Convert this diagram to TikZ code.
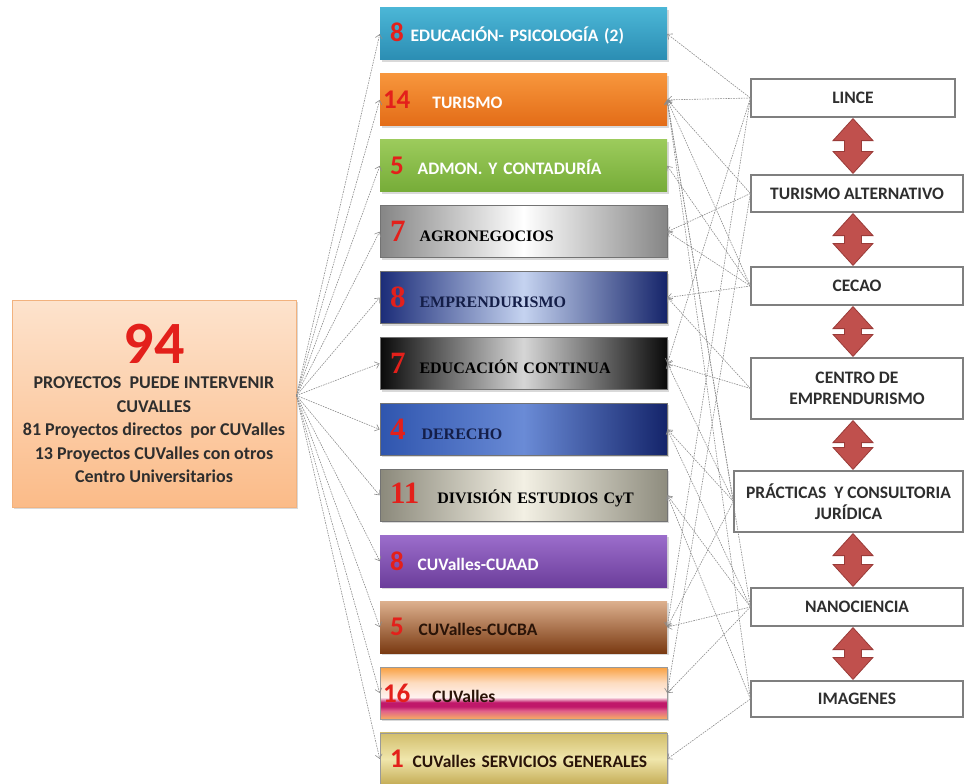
\documentclass[tikz,border=0pt]{standalone}
\usepackage{fontspec}
\setmainfont{Carlito}
\newfontfamily\serifbf{Liberation Serif}
\usepackage{xcolor}
\usepackage{tikz}
\usetikzlibrary{arrows.meta, positioning, calc, shadows}

\definecolor{numred}{HTML}{E3201B}
\definecolor{darktext}{HTML}{2E2E2E}
\definecolor{linkgray}{HTML}{8C8C8C}
\definecolor{boxgray}{HTML}{7F7F7F}
\definecolor{arrowred}{HTML}{C0504D}
\definecolor{arrowedge}{HTML}{9A3B38}
\definecolor{peachtop}{HTML}{FDE3CD}
\definecolor{peachbot}{HTML}{FBBB88}
\definecolor{peachedge}{HTML}{F2B27E}
\definecolor{tealtop}{HTML}{4BB6D6}
\definecolor{tealbot}{HTML}{2B8DB3}
\definecolor{orgtop}{HTML}{F7963C}
\definecolor{orgbot}{HTML}{E36C17}
\definecolor{grntop}{HTML}{9CCB5C}
\definecolor{grnbot}{HTML}{76AC38}
\definecolor{agroside}{HTML}{858585}
\definecolor{empside}{HTML}{1B2C78}
\definecolor{empmid}{HTML}{C5D3F0}
\definecolor{empedge}{HTML}{15246A}
\definecolor{navytext}{HTML}{141E48}
\definecolor{contside}{HTML}{0A0A0A}
\definecolor{contmid}{HTML}{D6D6D6}
\definecolor{derleft}{HTML}{2F55AE}
\definecolor{dermid}{HTML}{6A8BD6}
\definecolor{derright}{HTML}{14246A}
\definecolor{cytleft}{HTML}{8B897B}
\definecolor{cytmid}{HTML}{F3F0E4}
\definecolor{cytright}{HTML}{8E8C7E}
\definecolor{purtop}{HTML}{9B6DCB}
\definecolor{purbot}{HTML}{6C3E9B}
\definecolor{brntop}{HTML}{DDB08E}
\definecolor{brnbot}{HTML}{7A3A12}
\definecolor{brntext}{HTML}{2A1408}
\definecolor{cuorgtop}{HTML}{F9A040}
\definecolor{cupeach}{HTML}{FDDCC0}
\definecolor{cuwhite}{HTML}{FFF2F0}
\definecolor{cumag}{HTML}{C0186A}
\definecolor{cupink}{HTML}{E0608A}
\definecolor{cuorgbot}{HTML}{F6AC62}
\definecolor{khtop}{HTML}{D2BE6C}
\definecolor{khmid}{HTML}{F0E6AC}
\definecolor{khbot}{HTML}{C4AC55}

\pgfdeclareverticalshading{cuvshade}{100bp}{color(0bp)=(cuorgbot); color(25bp)=(cuorgbot); color(33bp)=(cupink); color(37bp)=(cumag); color(41bp)=(cumag); color(46bp)=(cuwhite); color(60bp)=(cupeach); color(75bp)=(cuorgtop); color(100bp)=(cuorgtop)}

\newcommand{\cnt}[1]{{\color{numred}\fontsize{27}{27}\selectfont #1}}
\newcommand{\cntr}[1]{{\color{numred}\fontsize{31}{31}\selectfont #1}}

\tikzstyle{total} = [rectangle, minimum width=284pt, minimum height=207pt, align=center, draw=peachedge, line width=0.8pt, top color=peachtop, bottom color=peachbot, drop shadow={opacity=0.3, shadow xshift=2pt, shadow yshift=-2pt}, text=darktext, font=\bfseries\fontsize{18}{23.5}\selectfont]
\tikzstyle{area} = [rectangle, minimum width=287pt, minimum height=52pt, text width=267pt, inner xsep=10pt, align=left, drop shadow={opacity=0.3, shadow xshift=1.5pt, shadow yshift=-2pt}, font=\bfseries\fontsize{17.5}{20}\selectfont]
\tikzstyle{serifarea} = [area, draw=black!55, line width=0.8pt, font=\serifbf\bfseries\fontsize{16}{20}\selectfont]
\tikzstyle{centre} = [rectangle, minimum width=212pt, minimum height=38pt, align=center, draw=boxgray, line width=1.2pt, fill=white, text=darktext, font=\bfseries\fontsize{17.5}{21}\selectfont]
\tikzstyle{link} = [draw=linkgray, line width=0.6pt, dash pattern=on 1.6pt off 1pt, ->, >={Straight Barb[length=4pt,width=7pt]}]
\tikzstyle{updown} = [draw=arrowedge, fill=arrowred, line width=0.8pt, line join=miter,
    to path={let \p1=(\tikztostart), \p2=(\tikztotarget) in
        (\x1,\y1) -- (\x1+20pt,\y1-22pt) -- (\x1+8.5pt,\y1-22pt) -- (\x1+8.5pt,\y2+22pt) -- (\x1+20pt,\y2+22pt)
        -- (\x1,\y2) -- (\x1-20pt,\y2+22pt) -- (\x1-8.5pt,\y2+22pt) -- (\x1-8.5pt,\y1-22pt) -- (\x1-20pt,\y1-22pt) -- cycle}]

\begin{document}
\begin{tikzpicture}[x=1pt, y=1pt, node distance=65.9pt]
    \useasboundingbox (0,0) rectangle (964,-784);

    \node (proj) [total] at (154,-403.5) {{\color{numred}\fontsize{60}{60}\selectfont 94}\\[2pt]
        PROYECTOS\ \ PUEDE INTERVENIR\\ CUVALLES\\ 81 Proyectos directos\ \ por CUValles\\
        13 Proyectos CUValles con otros\\ Centro Universitarios};

    \node (edupsi) [area, top color=tealtop, bottom color=tealbot, text=white] at (523.5,-34) {\cnt{8}\hspace{7pt}EDUCACIÓN- PSICOLOGÍA (2)};
    \node (turismo) [area, below of=edupsi, top color=orgtop, bottom color=orgbot, text=white] {\hspace*{-7pt}\cnt{14}\hspace{22pt}TURISMO};
    \node (admon) [area, below of=turismo, top color=grntop, bottom color=grnbot, text=white] {\cnt{5}\hspace{14pt}ADMON. Y CONTADURÍA};
    \node (agro) [serifarea, below of=admon, left color=agroside, right color=agroside, middle color=white, text=black] {\cntr{7}\hspace{14pt}AGRONEGOCIOS};
    \node (empre) [serifarea, below of=agro, left color=empside, right color=empedge, middle color=empmid, text=navytext] {\cntr{8}\hspace{14pt}EMPRENDURISMO};
    \node (educont) [serifarea, below of=empre, left color=contside, right color=contside, middle color=contmid, text=black] {\cntr{7}\hspace{14pt}EDUCACIÓN CONTINUA};
    \node (derecho) [serifarea, below of=educont, left color=derleft, right color=derright, middle color=dermid, text=navytext] {\cntr{4}\hspace{16pt}DERECHO};
    \node (divcyt) [serifarea, below of=derecho, left color=cytleft, right color=cytright, middle color=cytmid, text=black] {\cntr{11}\hspace{18pt}DIVISIÓN ESTUDIOS CyT};
    \node (cuaad) [area, below of=divcyt, top color=purtop, bottom color=purbot, text=white] {\cnt{8}\hspace{14pt}CUValles-CUAAD};
    \node (cucba) [area, below of=cuaad, top color=brntop, bottom color=brnbot, text=brntext] {\cnt{5}\hspace{15pt}CUValles-CUCBA};
    \node (cuvalles) [area, below of=cucba, shading=cuvshade, draw=black!40, line width=0.6pt, text=brntext] {\hspace*{-7pt}\cnt{16}\hspace{22pt}CUValles};
    \node (servgen) [area, below of=cuvalles, top color=khtop, bottom color=khbot, middle color=khmid, draw=black!40, line width=0.6pt, text=brntext] {\cnt{1}\hspace{9pt}CUValles SERVICIOS GENERALES};

    \node (lince) [centre, minimum width=204pt] at (853,-98) {LINCE};
    \node (turalt) [centre, minimum height=37pt] at (857,-193.5) {TURISMO ALTERNATIVO};
    \node (cecao) [centre] at (857,-286) {CECAO};
    \node (cempre) [centre, minimum height=61pt] at (857,-388.5) {CENTRO DE\\EMPRENDURISMO};
    \node (practicas) [centre, minimum width=229pt, minimum height=61pt] at (848.5,-501.5) {PRÁCTICAS\ \ Y CONSULTORIA\\JURÍDICA};
    \node (nano) [centre] at (857,-607) {NANOCIENCIA};
    \node (imagenes) [centre, minimum height=36pt] at (857,-699) {IMAGENES};

    \coordinate (hub) at ([yshift=8pt]proj.east);
    \foreach \n in {edupsi,turismo,admon,agro,empre,educont,derecho,divcyt,cuaad,cucba,cuvalles,servgen}
        \draw [link] (hub) -- (\n.west);

    \foreach \a/\b in {lince/edupsi, lince/turismo, lince/educont, lince/cucba,
                       turalt/turismo, turalt/agro, turalt/cuvalles,
                       cecao/turismo, cecao/admon, cecao/agro, cecao/empre,
                       cempre/empre, cempre/educont,
                       practicas/turismo, practicas/educont, practicas/derecho, practicas/cucba,
                       nano/turismo, nano/derecho, nano/divcyt, nano/cucba, nano/cuvalles,
                       imagenes/turismo, imagenes/divcyt, imagenes/servgen}
        \draw [link] (\a.west) -- (\b.east);

    % red double arrows down the right column
    \foreach \a/\b in {lince/turalt, turalt/cecao, cecao/cempre, cempre/practicas, practicas/nano, nano/imagenes}
        \draw [updown] ([yshift=-1pt]lince.south |- \a.south) to ([yshift=1pt]lince.south |- \b.north);
\end{tikzpicture}
\end{document}
